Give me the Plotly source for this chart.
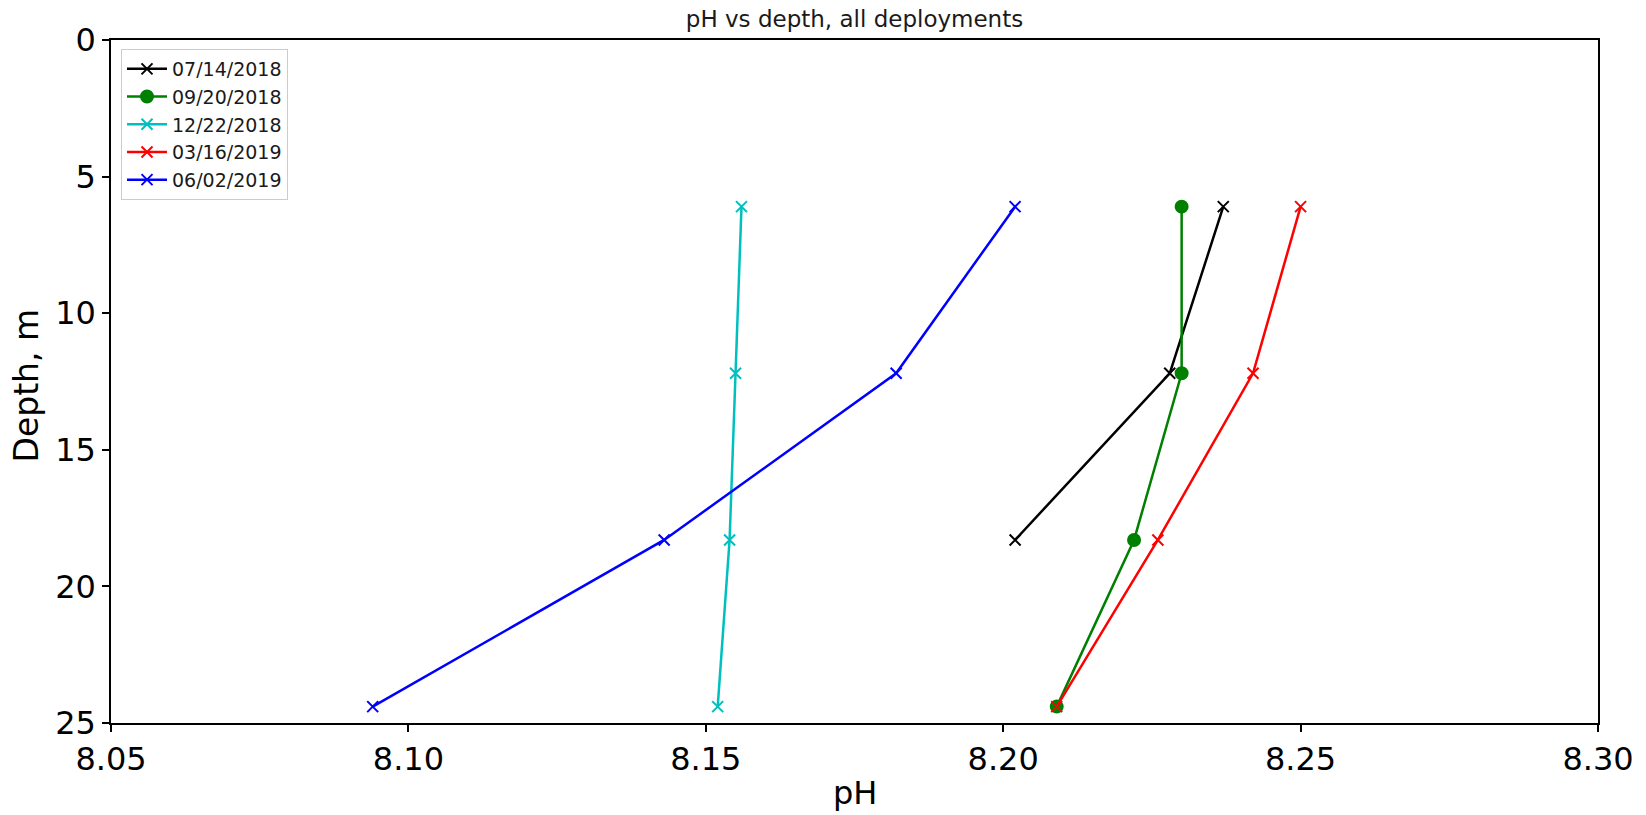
import plotly.graph_objects as go

depths = [6.1, 12.2, 18.3, 24.4]
labels = ["07/14/2018", "09/20/2018", "12/22/2018", "03/16/2019", "06/02/2019"]
ph_0714 = [8.237, 8.228, 8.202]
ph_0920 = [8.230, 8.230, 8.222, 8.209]
ph_1222 = [8.156, 8.155, 8.154, 8.152]
ph_0316 = [8.250, 8.242, 8.226, 8.209]
ph_0602 = [8.202, 8.182, 8.143, 8.094]
x_ticks = [8.05, 8.10, 8.15, 8.20, 8.25, 8.30]
y_ticks = [0, 5, 10, 15, 20, 25]

series = [ph_0714, ph_0920, ph_1222, ph_0316, ph_0602]
colors = ["black", "green", "#00bfbf", "red", "blue"]
symbols = ["x-thin", "circle", "x-thin", "x-thin", "x-thin"]

fig = go.Figure()
for lab, vals, col, sym in zip(labels, series, colors, symbols):
    fig.add_trace(go.Scatter(
        x=vals, y=depths[:len(vals)], name=lab, mode="lines+markers",
        line=dict(color=col, width=2.5),
        marker=dict(symbol=sym, size=12 if sym == "circle" else 11, color=col,
                    line=dict(color=col, width=2)),
    ))

font = "DejaVu Sans, sans-serif"
H_PLOT = 683
fig.update_layout(
    width=1646, height=815,
    margin=dict(l=111, r=48, t=40, b=92),
    paper_bgcolor="white", plot_bgcolor="white",
    font=dict(family=font, color="black"),
    title=dict(text="pH vs depth, all deployments", x=0.5, xref="paper", xanchor="center",
               y=1 - 19 / 815, yanchor="middle", font=dict(size=23, color="#1a1a1a")),
    showlegend=True,
    legend=dict(x=10 / 1487, y=1 - 9 / H_PLOT, xanchor="left", yanchor="top",
                bgcolor="rgba(255,255,255,0.8)", bordercolor="#cccccc", borderwidth=1,
                font=dict(size=19, color="#1a1a1a"), tracegroupgap=0, itemwidth=40),
    xaxis=dict(range=[8.05, 8.30], tickvals=x_ticks, tickformat=".2f", automargin=False,
               showgrid=False, zeroline=False, showline=True, linecolor="black",
               linewidth=1.5, mirror=True, ticks="outside", ticklen=7, tickwidth=1.5,
               tickcolor="black", tickfont=dict(size=32)),
    yaxis=dict(range=[25, 0], tickvals=y_ticks, showgrid=False, zeroline=False, automargin=False,
               showline=True, linecolor="black", linewidth=1.5, mirror=True,
               ticks="outside", ticklen=7, tickwidth=1.5, tickcolor="black",
               tickfont=dict(size=32)),
    annotations=[
        dict(text="pH", xref="paper", yref="paper", x=0.5, y=-(793 - 723) / H_PLOT,
             xanchor="center", yanchor="middle", showarrow=False, font=dict(size=32)),
        dict(text="Depth, m", xref="paper", yref="paper", x=-(111 - 26) / 1487, y=0.5 - 4 / H_PLOT,
             xanchor="center", yanchor="middle", textangle=-90, showarrow=False,
             font=dict(size=33)),
    ],
)

fig.write_html("out.html")
